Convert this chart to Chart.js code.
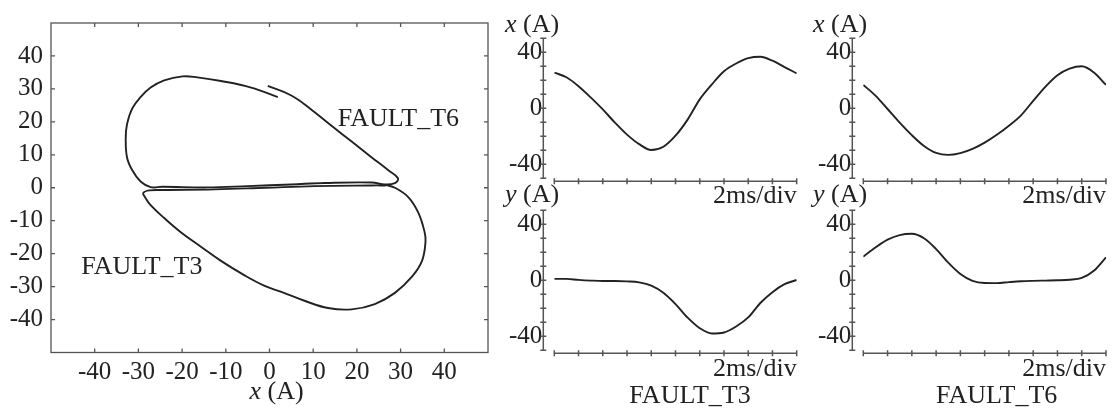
<!DOCTYPE html>
<html>
<head>
<meta charset="utf-8">
<script src="https://cdn.jsdelivr.net/npm/chart.js@4.4.0/dist/chart.umd.min.js"></script>
<style>
  html, body { margin: 0; padding: 0; background: #fff; }
  #wrap { position: relative; width: 1113px; height: 414px; overflow: hidden; }
  canvas { position: absolute; }
</style>
</head>
<body>
<div id="wrap">
  <canvas id="loop" width="500" height="414" style="left:0;top:0;width:500px;height:414px"></canvas>
  <canvas id="t3x" width="305" height="207" style="left:500px;top:0;width:305px;height:207px"></canvas>
  <canvas id="t6x" width="308" height="207" style="left:805px;top:0;width:308px;height:207px"></canvas>
  <canvas id="t3y" width="305" height="234" style="left:500px;top:180px;width:305px;height:234px"></canvas>
  <canvas id="t6y" width="308" height="234" style="left:805px;top:180px;width:308px;height:234px"></canvas>
</div>
<script>
// x-y trajectories (A)
let loopT6X = [-0.4, 5, 9.6, 14.2, 18.8, 23.4, 27.2, 29.4, 28.7, 26.4, 23.4, 12.6, 5, -5, -14.2, -24.5, -27.2,
               -29.5, -31.4, -32.6, -32.9, -32.6, -31.4, -29.5, -27.2, -24.1, -19.9, -16.5, -11.1, -4.2, 1.9];
let loopT6Y = [30.9, 28, 23.7, 18.8, 14, 9.2, 5.3, 2.9, 1.4, 1.0, 1.6, 1.45, 1.0, 0.5, 0.1, 0.3, 0.2,
               1.9, 5.3, 9.2, 15, 19.3, 24.1, 27.5, 30.4, 32.6, 33.8, 33.5, 32.4, 30.4, 27.5];
let loopT3X = [26.6, 23.4, 10.3, -1, -12.6, -24.1, -27.5, -28.9, -28.5, -27.2, -24.1, -20.3, -15.7, -11.1, -5.7,
               -1.1, 2.7, 8, 13.4, 18.8, 24.1, 28.7, 32.6, 34.9, 35.7, 35.5, 34.1, 31.8, 28.7, 26.6];
let loopT3Y = [0.7, 0.7, 0.5, 0, -0.5, -0.7, -0.8, -1.6, -2.8, -5.3, -9.2, -13.5, -17.9, -22.2, -26.6,
               -29.8, -31.6, -34.3, -36.5, -36.9, -35.3, -31.9, -27, -22.2, -16.4, -13.5, -7.7, -2.9, 0, 0.9];

// time traces, sampled every half division (2ms/div)
let divs = [0, 0.5, 1, 1.5, 2, 2.5, 3, 3.5, 4, 4.5, 5, 5.5, 6, 6.5, 7, 7.5, 8, 8.5, 9, 9.5, 10];
let t3x = [25.5, 22.2, 15.8, 7.8, -0.8, -10.2, -18.8, -25.6, -29.8, -27.5, -19.6, -8.1, 6.4, 17.1, 26.5, 32, 35.8, 36.8, 34, 29.4, 25];
let t3y = [1, 1, 0.3, -0.2, -0.5, -0.5, -0.8, -1.5, -3.8, -8.9, -17, -26.7, -34.2, -38, -37.3, -33, -26.5, -16.2, -8.5, -2.8, 0.2];
let t6x = [16.7, 9.1, -0.5, -10.2, -19.2, -26.9, -31.9, -33.3, -32, -29, -24.5, -18.9, -12.4, -5, 5.3, 15.3, 23.6, 28.3, 30, 25.6, 16.7];
let t6y = [16.9, 23.4, 29, 32.3, 33.2, 30, 22.3, 12.6, 4.5, -0.4, -1.9, -2.0, -1.3, -0.7, -0.4, -0.2, 0, 0.4, 1.7, 6.8, 16.4];

let scopeLabels = [40, 0, -40];

const INK = '#222';
const AXIS = '#555';
const SERIF = '"Liberation Serif", "Times New Roman", serif';

function axisName(ctx, letter, x, y, size, center) {
    ctx.font = 'italic ' + size + 'px ' + SERIF;
    let w1 = ctx.measureText(letter).width;
    ctx.font = size + 'px ' + SERIF;
    let w2 = ctx.measureText(' (A)').width;
    let x0 = center ? x - (w1 + w2) / 2 : x;
    ctx.textAlign = 'left';
    ctx.font = 'italic ' + size + 'px ' + SERIF;
    ctx.fillText(letter, x0, y);
    ctx.font = size + 'px ' + SERIF;
    ctx.fillText(' (A)', x0 + w1, y);
}

const frameAxes = {
    id: 'frameAxes',
    afterDraw(chart) {
        let ctx = chart.ctx, a = chart.chartArea, sx = chart.scales.x, sy = chart.scales.y;
        ctx.save();
        ctx.strokeStyle = AXIS;
        ctx.lineWidth = 1.3;
        ctx.strokeRect(a.left, a.top, a.right - a.left, a.bottom - a.top);
        ctx.beginPath();
        sx.ticks.forEach(t => {
            if (Math.abs(t.value) === 50) return;
            let px = sx.getPixelForValue(t.value);
            ctx.moveTo(px, a.bottom); ctx.lineTo(px, a.bottom - 4);
            ctx.moveTo(px, a.top); ctx.lineTo(px, a.top + 4);
        });
        sy.ticks.forEach(t => {
            if (Math.abs(t.value) === 50) return;
            let py = sy.getPixelForValue(t.value);
            ctx.moveTo(a.left, py); ctx.lineTo(a.left + 4, py);
            ctx.moveTo(a.right, py); ctx.lineTo(a.right - 4, py);
        });
        ctx.stroke();

        ctx.fillStyle = INK;
        ctx.textBaseline = 'alphabetic';
        ctx.font = '26px ' + SERIF;
        ctx.textAlign = 'left';
        ctx.fillText('FAULT_T6', sx.getPixelForValue(15.6), sy.getPixelForValue(18.8));
        ctx.fillText('FAULT_T3', sx.getPixelForValue(-43.1), sy.getPixelForValue(-26.1));
        axisName(ctx, 'x', (a.left + a.right) / 2 + 7, 399, 26, true);
        ctx.restore();
    }
};

const scopeAxes = {
    id: 'scopeAxes',
    afterDraw(chart, args, opts) {
        let ctx = chart.ctx, a = chart.chartArea, sx = chart.scales.x, sy = chart.scales.y;
        ctx.save();
        ctx.strokeStyle = AXIS;
        ctx.lineWidth = 1.5;
        let ax = a.left - 11;
        let ay = a.bottom + 3;
        ctx.beginPath();
        ctx.moveTo(ax, sy.getPixelForValue(50));
        ctx.lineTo(ax, sy.getPixelForValue(-50));
        sy.ticks.forEach(t => {
            let py = sy.getPixelForValue(t.value);
            ctx.moveTo(ax - 3, py); ctx.lineTo(ax + 3, py);
        });
        ctx.moveTo(sx.getPixelForValue(0), ay);
        ctx.lineTo(sx.getPixelForValue(10), ay);
        sx.ticks.forEach(t => {
            let px = sx.getPixelForValue(t.value);
            ctx.moveTo(px, ay - 3); ctx.lineTo(px, ay + 3);
        });
        ctx.stroke();

        ctx.fillStyle = INK;
        ctx.textBaseline = 'alphabetic';
        axisName(ctx, opts.name, a.left + opts.nameDx, a.top + opts.nameDy, 26, false);
        ctx.font = '26px ' + SERIF;
        ctx.textAlign = 'right';
        ctx.fillText('2ms/div', a.right, a.bottom + opts.divDy);
        if (opts.caption) {
            ctx.font = '26px ' + SERIF;
            ctx.textAlign = 'center';
            ctx.fillText(opts.caption, (a.left + a.right) / 2 + opts.capDx, a.bottom + 52.7);
        }
        ctx.restore();
    }
};

new Chart(document.getElementById('loop'), {
    type: 'scatter',
    data: {
        datasets: [
            {
                label: 'FAULT_T6',
                data: loopT6X.map((x, i) => ({ x: x, y: loopT6Y[i] })),
                showLine: true, borderColor: INK, borderWidth: 1.9, pointRadius: 0, tension: 0.4
            }, {
                label: 'FAULT_T3',
                data: loopT3X.map((x, i) => ({ x: x, y: loopT3Y[i] })),
                showLine: true, borderColor: INK, borderWidth: 1.9, pointRadius: 0, tension: 0.4
            }
        ]
    },
    options: {
        responsive: false,
        animation: false,
        events: [],
        layout: { padding: { left: 0, top: 7, right: 12, bottom: 21.5 } },
        plugins: { legend: { display: false }, tooltip: { enabled: false } },
        scales: {
            x: {
                type: 'linear', min: -50, max: 50,
                grid: { display: false, drawTicks: false }, border: { display: false },
                ticks: {
                    stepSize: 10, autoSkip: false, maxRotation: 0, padding: 5, color: INK,
                    font: { family: SERIF, size: 25 },
                    callback: v => Math.abs(v) === 50 ? '' : String(v)
                },
                afterFit: s => { s.height = 40; }
            },
            y: {
                type: 'linear', min: -50, max: 50,
                grid: { display: false, drawTicks: false }, border: { display: false },
                ticks: {
                    stepSize: 10, autoSkip: false, padding: 8, color: INK,
                    font: { family: SERIF, size: 25 },
                    callback: v => Math.abs(v) === 50 ? '' : String(v)
                },
                afterFit: s => { s.width = 51; }
            }
        }
    },
    plugins: [frameAxes]
});

function GenerateScope(id, values, box, texts) {
    return new Chart(document.getElementById(id), {
        type: 'line',
        data: {
            datasets: [{
                data: divs.map((t, i) => ({ x: t, y: values[i] })),
                borderColor: INK, borderWidth: 1.9, pointRadius: 0,
                cubicInterpolationMode: 'monotone', fill: false
            }]
        },
        options: {
            responsive: false,
            animation: false,
            events: [],
            layout: { padding: { left: box.left - 50, top: box.top, right: box.w - box.right, bottom: box.h - box.bottom } },
            plugins: { legend: { display: false }, tooltip: { enabled: false }, scopeAxes: texts },
            scales: {
                x: {
                    type: 'linear', min: 0, max: 10,
                    grid: { display: false, drawTicks: false }, border: { display: false },
                    ticks: { display: false, stepSize: 1, autoSkip: false },
                    afterFit: s => { s.height = 0; }
                },
                y: {
                    type: 'linear', min: -50, max: 50,
                    grid: { display: false, drawTicks: false }, border: { display: false },
                    ticks: {
                        stepSize: 10, autoSkip: false, padding: 12, color: INK,
                        font: { family: SERIF, size: 25 },
                        callback: v => scopeLabels.includes(v) ? String(v) : ''
                    },
                    afterFit: s => { s.width = 50; }
                }
            }
        },
        plugins: [scopeAxes]
    });
}

GenerateScope('t3x', t3x, { left: 54.3, top: 38.3, right: 296.7, bottom: 178.3, w: 305, h: 207 },
    { name: 'x', nameDx: -49.3, nameDy: -6.3, divDy: 25 });
GenerateScope('t6x', t6x, { left: 58.3, top: 38.3, right: 301, bottom: 178.3, w: 308, h: 207 },
    { name: 'x', nameDx: -50.3, nameDy: -6.3, divDy: 25 });
GenerateScope('t3y', t3y, { left: 54.3, top: 30.3, right: 296.7, bottom: 170.3, w: 305, h: 234 },
    { name: 'y', nameDx: -49.3, nameDy: -8.6, divDy: 25.7, caption: 'FAULT_T3', capDx: 14.5 });
GenerateScope('t6y', t6y, { left: 58.3, top: 30.3, right: 301, bottom: 170.3, w: 308, h: 234 },
    { name: 'y', nameDx: -50.3, nameDy: -8.6, divDy: 25.7, caption: 'FAULT_T6', capDx: 12 });
</script>
</body>
</html>
